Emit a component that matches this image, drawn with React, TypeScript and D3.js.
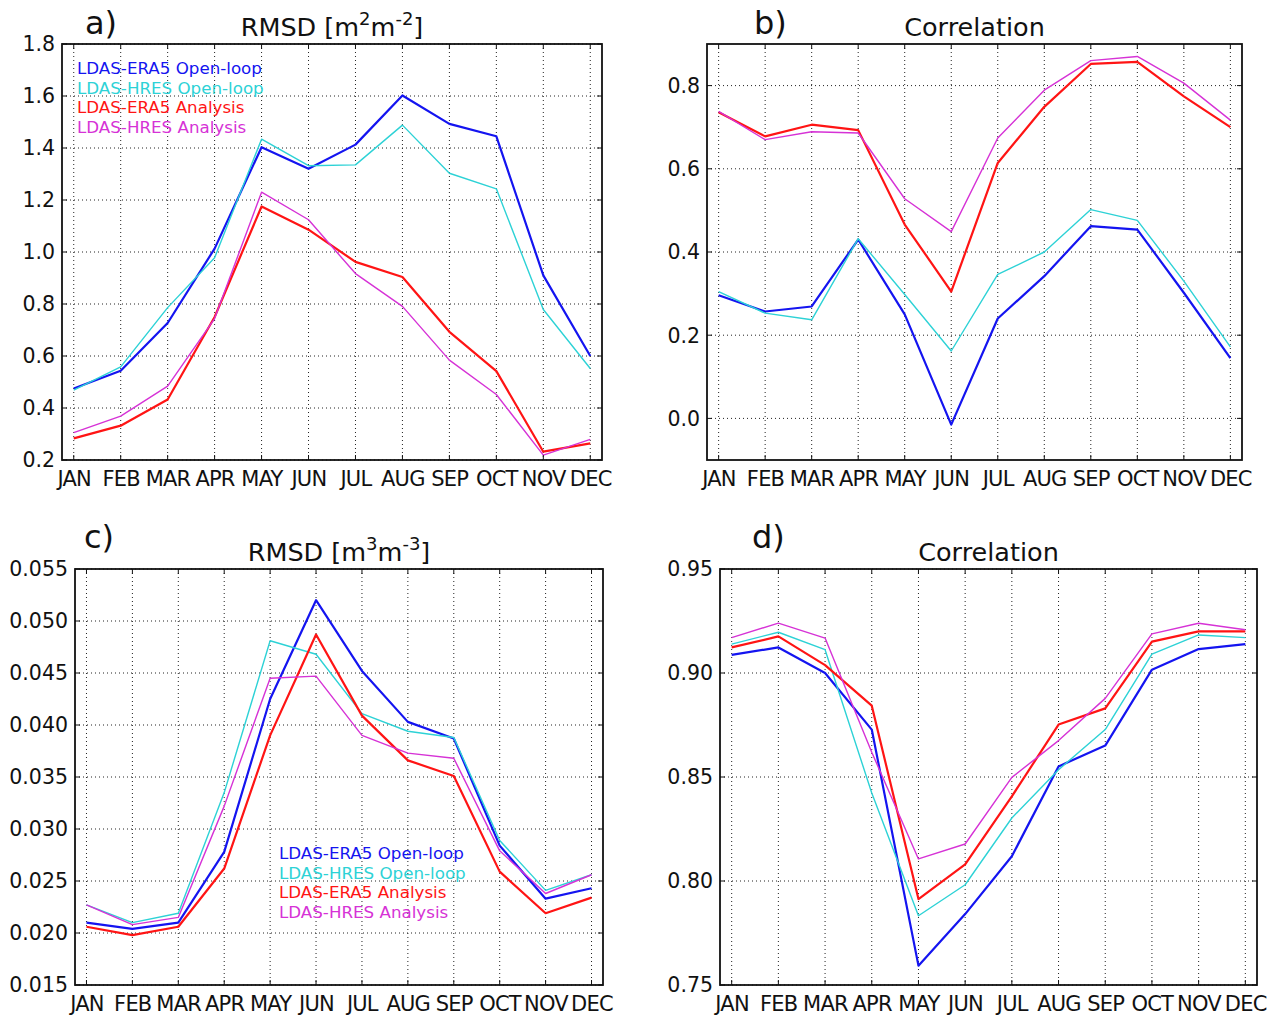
import React from 'react';
import * as d3 from 'd3';

const months = ['JAN', 'FEB', 'MAR', 'APR', 'MAY', 'JUN', 'JUL', 'AUG', 'SEP', 'OCT', 'NOV', 'DEC'];

const seriesNames = ['LDAS-ERA5 Open-loop', 'LDAS-HRES Open-loop', 'LDAS-ERA5 Analysis', 'LDAS-HRES Analysis'];
const seriesColors = ['#1414f0', '#2dd2d6', '#ff1414', '#d632d6'];
const seriesWidths = [2.2, 1.4, 2.2, 1.4];

// a) RMSD LAI
const lai_era5_ol = [0.475, 0.543, 0.727, 1.013, 1.403, 1.32, 1.413, 1.602, 1.493, 1.445, 0.91, 0.6];
const lai_hres_ol = [0.469, 0.558, 0.786, 0.978, 1.434, 1.332, 1.335, 1.488, 1.303, 1.243, 0.779, 0.552];
const lai_era5_an = [0.283, 0.332, 0.433, 0.75, 1.175, 1.086, 0.962, 0.904, 0.693, 0.542, 0.232, 0.264];
const lai_hres_an = [0.305, 0.369, 0.484, 0.744, 1.23, 1.124, 0.917, 0.791, 0.584, 0.452, 0.219, 0.279];

// b) correlation LAI
const laiR_era5_ol = [0.296, 0.257, 0.269, 0.43, 0.25, -0.015, 0.24, 0.342, 0.462, 0.454, 0.302, 0.145];
const laiR_hres_ol = [0.305, 0.253, 0.237, 0.432, 0.298, 0.162, 0.346, 0.4, 0.502, 0.476, 0.33, 0.172];
const laiR_era5_an = [0.736, 0.678, 0.706, 0.693, 0.466, 0.305, 0.614, 0.749, 0.852, 0.857, 0.774, 0.7];
const laiR_hres_an = [0.738, 0.67, 0.689, 0.686, 0.528, 0.449, 0.674, 0.789, 0.86, 0.87, 0.806, 0.717];

// c) RMSD soil moisture
const sm_era5_ol = [0.021, 0.0204, 0.021, 0.0278, 0.0425, 0.052, 0.0452, 0.0403, 0.0387, 0.0284, 0.0233, 0.0243];
const sm_hres_ol = [0.0227, 0.021, 0.0219, 0.0335, 0.0481, 0.0468, 0.0411, 0.0394, 0.0388, 0.0289, 0.0241, 0.0256];
const sm_era5_an = [0.0206, 0.0198, 0.0206, 0.0262, 0.039, 0.0487, 0.0409, 0.0366, 0.0351, 0.0259, 0.0219, 0.0234];
const sm_hres_an = [0.0227, 0.0208, 0.0215, 0.0322, 0.0445, 0.0447, 0.039, 0.0373, 0.0368, 0.0279, 0.0238, 0.0256];

// d) correlation soil moisture
const smR_era5_ol = [0.9087, 0.9123, 0.9, 0.8728, 0.7593, 0.7841, 0.8119, 0.8551, 0.8651, 0.9016, 0.9115, 0.9139];
const smR_hres_ol = [0.9139, 0.9196, 0.9112, 0.8423, 0.7833, 0.7982, 0.8303, 0.8535, 0.8728, 0.9091, 0.9183, 0.917];
const smR_era5_an = [0.9123, 0.9176, 0.9038, 0.8843, 0.7913, 0.808, 0.8407, 0.8752, 0.883, 0.9151, 0.92, 0.92];
const smR_hres_an = [0.917, 0.924, 0.9168, 0.8619, 0.8106, 0.8178, 0.8498, 0.8675, 0.8878, 0.9188, 0.9239, 0.9208];

const ticksA = [0.2, 0.4, 0.6, 0.8, 1.0, 1.2, 1.4, 1.6, 1.8];
const ticksB = [0.0, 0.2, 0.4, 0.6, 0.8];
const ticksC = [0.015, 0.02, 0.025, 0.03, 0.035, 0.04, 0.045, 0.05, 0.055];
const ticksD = [0.75, 0.8, 0.85, 0.9, 0.95];

const FONT = 'DejaVu Sans, sans-serif';

type PanelProps = {
    left: number; right: number; top: number; bottom: number;
    yDomain: [number, number];
    yTicks: number[];
    digits: number;
    series: number[][];
    letter: string;
    letterX: number; letterY: number;
    title: React.ReactNode;
    legend?: { x: number; y: number };
};

const Panel = ({ left, right, top, bottom, yDomain, yTicks, digits, series, letter, letterX, letterY, title, legend }: PanelProps) => {
    const x = d3.scaleLinear().domain([-0.25, 11.25]).range([left, right]);
    const y = d3.scaleLinear().domain(yDomain).range([bottom, top]);
    const line = d3.line<number>().x((d, i) => x(i)).y(d => y(d));
    const tickLen = 5;

    return (
        <g>
            <text x={letterX} y={letterY} fontSize={32} fontFamily={FONT} fill="#111">{letter}</text>
            <text x={(left + right) / 2} y={top - 8} fontSize={25.5} fontFamily={FONT} textAnchor="middle" fill="#111">{title}</text>

            {/* grid */}
            {months.map((m, i) => (
                <line key={'gx' + m} x1={x(i)} x2={x(i)} y1={top} y2={bottom} stroke="#222" strokeWidth={1} strokeDasharray="1,3" />
            ))}
            {yTicks.map(t => (
                <line key={'gy' + t} x1={left} x2={right} y1={y(t)} y2={y(t)} stroke="#222" strokeWidth={1} strokeDasharray="1,3" />
            ))}

            {/* series */}
            {series.map((s, k) => (
                <path key={'s' + k} d={line(s) || ''} fill="none" stroke={seriesColors[k]} strokeWidth={seriesWidths[k]} strokeLinejoin="round" />
            ))}

            {/* frame + inward ticks */}
            <rect x={left} y={top} width={right - left} height={bottom - top} fill="none" stroke="#111" strokeWidth={1.8} />
            {months.map((m, i) => (
                <g key={'tx' + m}>
                    <line x1={x(i)} x2={x(i)} y1={bottom} y2={bottom - tickLen} stroke="#111" />
                    <line x1={x(i)} x2={x(i)} y1={top} y2={top + tickLen} stroke="#111" />
                    <text x={x(i) + 0.4} y={bottom + 26} fontSize={21} fontFamily={FONT} textAnchor="middle" fill="#111" letterSpacing={-0.8}>{m}</text>
                </g>
            ))}
            {yTicks.map(t => (
                <g key={'ty' + t}>
                    <line x1={left} x2={left + tickLen} y1={y(t)} y2={y(t)} stroke="#111" />
                    <line x1={right} x2={right - tickLen} y1={y(t)} y2={y(t)} stroke="#111" />
                    <text x={left - 7} y={y(t)} dy="0.36em" fontSize={20.5} fontFamily={FONT} textAnchor="end" fill="#111">{t.toFixed(digits)}</text>
                </g>
            ))}

            {legend && seriesNames.map((n, k) => (
                <text key={'lg' + k} x={legend.x} y={legend.y + k * 19.6} fontSize={16.7} fontFamily={FONT} fill={seriesColors[k]}>{n}</text>
            ))}
        </g>
    );
};

const rmsdTitle = (p: string) => (
    <>
        RMSD [m<tspan fontSize={18} dy={-11}>{p}</tspan><tspan dy={11}>m</tspan><tspan fontSize={18} dy={-11}>-{p}</tspan><tspan dy={11}>]</tspan>
    </>
);

export default function App() {
    return (
        <div style={{ position: 'absolute', left: 0, top: 0 }}>
            <svg width={1285} height={1019} style={{ display: 'block', background: '#fff' }}>
                <Panel left={62} right={602} top={44} bottom={460}
                    yDomain={[0.2, 1.8]} yTicks={ticksA} digits={1}
                    series={[lai_era5_ol, lai_hres_ol, lai_era5_an, lai_hres_an]}
                    letter="a)" letterX={85} letterY={34}
                    title={rmsdTitle('2')}
                    legend={{ x: 77, y: 74 }} />
                <Panel left={707} right={1242} top={44} bottom={460}
                    yDomain={[-0.1, 0.9]} yTicks={ticksB} digits={1}
                    series={[laiR_era5_ol, laiR_hres_ol, laiR_era5_an, laiR_hres_an]}
                    letter="b)" letterX={754} letterY={34}
                    title="Correlation" />
                <Panel left={75} right={603} top={569} bottom={985}
                    yDomain={[0.015, 0.055]} yTicks={ticksC} digits={3}
                    series={[sm_era5_ol, sm_hres_ol, sm_era5_an, sm_hres_an]}
                    letter="c)" letterX={84} letterY={548}
                    title={rmsdTitle('3')}
                    legend={{ x: 279, y: 859 }} />
                <Panel left={720} right={1257} top={569} bottom={985}
                    yDomain={[0.75, 0.95]} yTicks={ticksD} digits={2}
                    series={[smR_era5_ol, smR_hres_ol, smR_era5_an, smR_hres_an]}
                    letter="d)" letterX={752} letterY={548}
                    title="Correlation" />
            </svg>
        </div>
    );
}
